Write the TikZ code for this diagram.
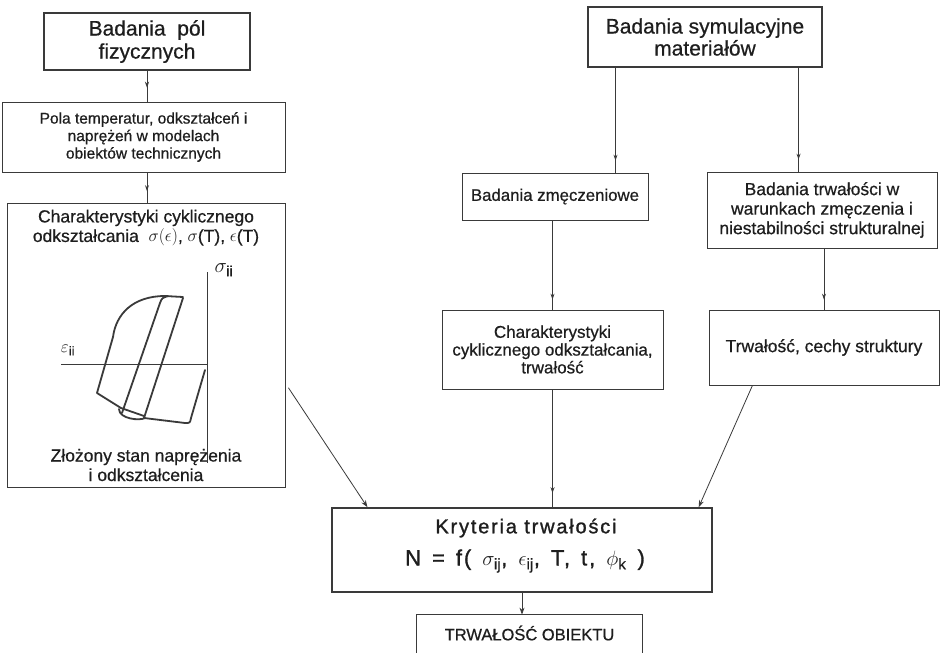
\documentclass[tikz,border=0pt]{standalone}
\usepackage{fontspec}
\setmainfont{Liberation Sans}[FakeBold=0.6]
\newfontfamily\kfont{Liberation Sans}[LetterSpace=9, FakeBold=1.2]
\usetikzlibrary{arrows.meta,decorations.markings,calc}
\definecolor{linec}{HTML}{3A3A3A}
\definecolor{textc}{HTML}{1E1E1E}
\newcommand\fsz[2]{\fontsize{#1}{#2}\selectfont}
\begin{document}
\begin{tikzpicture}[x=1pt,y=-1pt,
  box/.style={draw=linec, line width=0.8pt, inner sep=0pt, align=center, text=textc},
  titlebox/.style={box, line width=1.6pt},
  txt/.style={inner sep=0pt, align=center, text=textc},
  conn/.style={draw=linec, line width=0.8pt},
  markarrow/.style={conn, decoration={markings, mark=at position #1 with {\arrow{Stealth[length=6pt,width=4pt]}}}, postaction={decorate}},
  endarrow/.style={conn, -{Stealth[length=7pt,width=5pt]}},
  loopline/.style={draw=linec, line width=1.8pt, line join=round, line cap=round}
]
\fill[white] (0,0) rectangle (943,653);
\useasboundingbox (0,0) rectangle (943,653);

% left column
\node[titlebox, minimum width=206pt, minimum height=57pt, font=\fsz{21}{23}] (A) at (147,41.5) {Badania\ \ pól\\fizycznych};
\node[box, minimum width=283pt, minimum height=70pt, font=\fsz{15.5}{17.5}] (B) at (143.5,137) {Pola temperatur, odkształceń i\\naprężeń w modelach\\obiektów technicznych};
\node[box, minimum width=278pt, minimum height=284pt] (C) at (146,345) {};
\node[txt, font=\fsz{17.5}{19.5}] (Ct) at (146,228) {Charakterystyki cyklicznego\\odkształcania\ \ $\sigma(\epsilon)$, $\sigma$(T), $\epsilon$(T)};
\node[txt, font=\fsz{17.5}{19.5}] (Cb) at (146,465) {Złożony stan naprężenia\\i odkształcenia};

% chart
\coordinate (ax0) at (207,364);
\coordinate (axT) at (207,272);
\coordinate (axB) at (207,463);
\coordinate (axL) at (61,364);
\draw[conn] (axT) -- (axB);
\draw[conn] (axL) -- (ax0);
\node[txt, font=\fsz{21}{23}] (sig) at (224,270) {$\sigma_{\mathrm{ii}}$};
\node[txt, font=\fsz{18}{20}] (eps) at (68,350) {$\varepsilon_{\mathrm{ii}}$};
\draw[loopline] (183,297) -- (165,296) .. controls (133,296) and (116,314) .. (113,337) -- (97,393) -- (121,408) -- (144,416);
\draw[loopline] (122,413) -- (160,303) .. controls (162,298) .. (168,296);
\draw[loopline] (144,418) -- (183,298);
\draw[loopline] (119,409) .. controls (119,419) and (140,421) .. (145,418);
\draw[loopline] (144,418) -- (185,423) .. controls (190,423) .. (191,418) -- (205,370);

% right column
\node[titlebox, minimum width=234pt, minimum height=60pt, font=\fsz{21}{22}] (D) at (705,37) {Badania symulacyjne\\materiałów};
\node[box, minimum width=186pt, minimum height=47pt, font=\fsz{16.8}{19}] (E) at (555,196.5) {Badania zmęczeniowe};
\node[box, minimum width=230pt, minimum height=76pt, font=\fsz{17.5}{19.5}] (F) at (822,210) {Badania trwałości w\\warunkach zmęczenia i\\niestabilności strukturalnej};
\node[box, minimum width=221pt, minimum height=79pt, font=\fsz{17}{17.8}] (G) at (552.5,349.5) {Charakterystyki\\cyklicznego odkształcania,\\trwałość};
\node[box, minimum width=230pt, minimum height=75pt, font=\fsz{17.5}{19.5}] (H) at (824,347.5) {Trwałość, cechy struktury};

% bottom
\node[titlebox, minimum width=380pt, minimum height=84pt] (I) at (522,550) {};
\node[txt, font=\kfont\fsz{20}{24}] (It) at (526,528) {Kryteria trwałości};
\node[txt, font=\kfont\fsz{22}{26}] (If) at (525,561) {N\enspace=\enspace f(\enspace$\sigma_{\mathrm{ij}}$,\enspace$\epsilon_{\mathrm{ij}}$,\enspace T,\enspace t,\enspace$\phi_{\mathrm{k}}$\enspace)};
\node[box, draw=none, minimum width=225pt, minimum height=36pt, font=\fsz{16.5}{18}] (J) at (529.5,633) {TRWAŁOŚĆ OBIEKTU};
\draw[conn] ($(J.south west)+(0,12)$) -- (J.north west) -- (J.north east) -- ($(J.south east)+(0,12)$);

% connectors
\draw[markarrow=0.55] (A.south) -- (A.south |- B.north);
\draw[markarrow=0.62] (A.south |- B.south) -- (A.south |- C.north);
\coordinate (Dl) at ($(D.south west)!0.12!(D.south east)$);
\coordinate (Dr) at ($(D.south west)!0.897!(D.south east)$);
\draw[markarrow=-12pt] (Dl) -- (Dl |- E.north);
\draw[markarrow=-12pt] (Dr) -- (Dr |- F.north);
\draw[markarrow=-10pt] (G.north |- E.south) -- (G.north);
\draw[markarrow=-10pt] (H.north |- F.south) -- (H.north);
\draw[markarrow=-14pt] (G.south) -- (G.south |- I.north);
\coordinate (Cout) at ($(C.south east)!0.35!(C.north east)+(3,0)$);
\coordinate (Iinl) at ($(I.north west)!0.095!(I.north east)$);
\coordinate (Hout) at ($(H.south west)!0.19!(H.south east)$);
\coordinate (Iinr) at ($(I.north west)!0.963!(I.north east)$);
\draw[endarrow] (Cout) -- (Iinl);
\draw[endarrow] (Hout) -- (Iinr);
\draw[endarrow] (I.south) -- (I.south |- J.north);
\end{tikzpicture}
\end{document}
